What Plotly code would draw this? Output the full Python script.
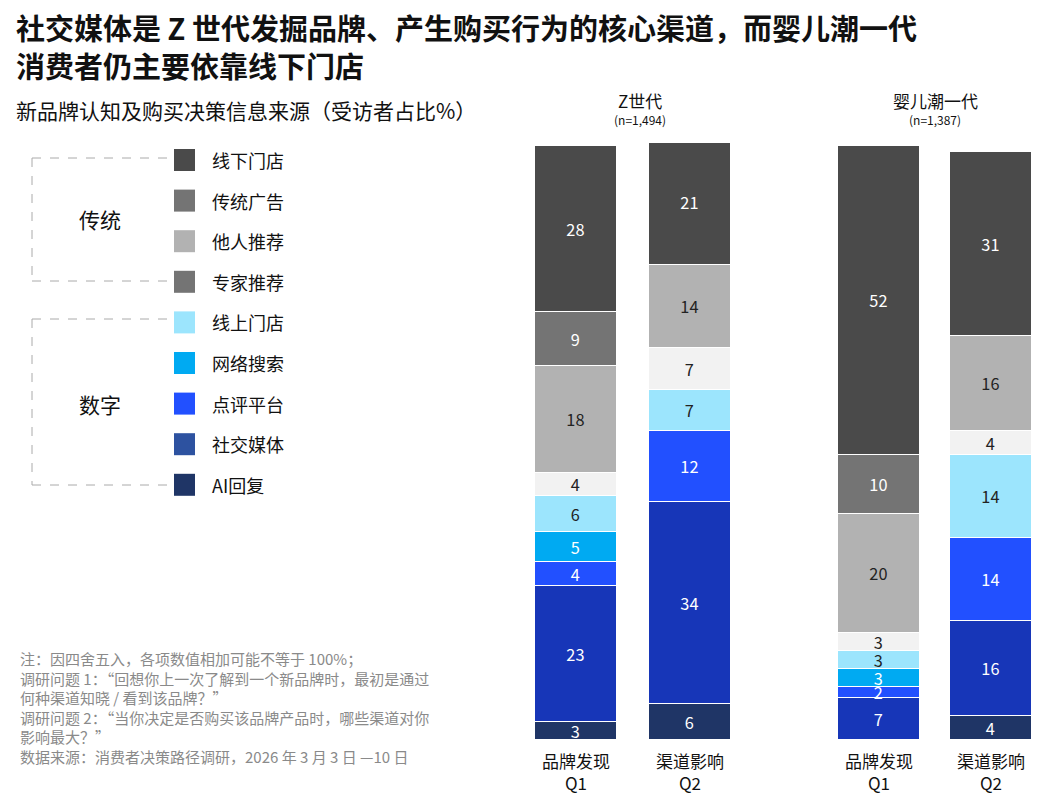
import plotly.graph_objects as go

# categories, bottom to top of each stack
channels = ["AI回复", "社交媒体", "点评平台", "网络搜索", "线上门店",
            "专家推荐", "他人推荐", "传统广告", "线下门店"]
bar_labels = ["品牌发现<br>Q1", "渠道影响<br>Q2", "品牌发现<br>Q1", "渠道影响<br>Q2"]
# values per channel for [Z Q1, Z Q2, Boomer Q1, Boomer Q2]
values = {
    "AI回复":   [3, 6, 0, 4],
    "社交媒体": [23, 34, 7, 16],
    "点评平台": [4, 12, 2, 14],
    "网络搜索": [5, 0, 3, 0],
    "线上门店": [6, 7, 3, 14],
    "专家推荐": [4, 7, 3, 4],
    "他人推荐": [18, 14, 20, 16],
    "传统广告": [9, 0, 10, 0],
    "线下门店": [28, 21, 52, 31],
}
bar_colors = {
    "AI回复": "#1f3566", "社交媒体": "#1736b8", "点评平台": "#2250ff",
    "网络搜索": "#00aaf2", "线上门店": "#9ce5fd", "专家推荐": "#f2f2f2",
    "他人推荐": "#b2b2b2", "传统广告": "#747474", "线下门店": "#4a4a4a",
}
legend_colors = {
    "线下门店": "#4a4a4a", "传统广告": "#747474", "他人推荐": "#b2b2b2",
    "专家推荐": "#747474", "线上门店": "#9ce5fd", "网络搜索": "#00aaf2",
    "点评平台": "#2250ff", "社交媒体": "#2d52a0", "AI回复": "#1f3566",
}
dark_text = {"线上门店", "专家推荐", "他人推荐"}
groups = ["Z世代", "婴儿潮一代"]
group_n = ["(n=1,494)", "(n=1,387)"]

FONT = "Noto Sans CJK SC, Microsoft YaHei, sans-serif"
OFF = 8  # page body margin
W, H = 1062 - 2 * OFF, 804 - 2 * OFF
xpos = [576, 690, 879, 991]


def py(p):
    return (H + OFF - p) / H


fig = go.Figure()
for ch in channels:
    vals = values[ch]
    fig.add_trace(go.Bar(
        x=xpos, y=vals, width=82,
        marker=dict(color=bar_colors[ch], line=dict(color="white", width=1.2)),
        text=[str(v) if v else "" for v in vals],
        textposition="inside", insidetextanchor="middle", textangle=0,
        textfont=dict(size=17, color="#222" if ch in dark_text else "white"),
        hoverinfo="skip", showlegend=False,
    ))

ann = []
shapes = []
# bar labels
for x, lab in zip(xpos, bar_labels):
    ann.append(dict(x=x, y=py(746), xref="x", yref="paper", text=lab, yanchor="top",
                    showarrow=False, font=dict(size=17, color="#111")))
# group headers
for x, g, n in zip([640, 935], groups, group_n):
    ann.append(dict(x=x, y=py(100), xref="x", yref="paper", text=g, yanchor="middle",
                    showarrow=False, font=dict(size=17, color="#111")))
    ann.append(dict(x=x, y=py(120), xref="x", yref="paper", text=n, yanchor="middle",
                    showarrow=False, font=dict(size=12, color="#111")))

# legend
leg_order = channels[::-1]
for i, ch in enumerate(leg_order):
    yc = 160 + i * 40.6
    shapes.append(dict(type="rect", xref="x", yref="paper",
                       x0=174, x1=195, y0=py(yc - 11), y1=py(yc + 11),
                       fillcolor=legend_colors[ch], line=dict(width=0)))
    ann.append(dict(x=210, y=py(yc), xref="x", yref="paper", text=ch,
                    xanchor="left", yanchor="middle", showarrow=False,
                    font=dict(size=18, color="#111")))

# brackets
for (y0, y1, lab) in [(158, 281, "传统"), (319, 485, "数字")]:
    for (xa, ya, xb, yb) in [(32, y0, 170, y0), (32, y0, 32, y1), (32, y1, 170, y1)]:
        shapes.append(dict(type="line", xref="x", yref="paper",
                           x0=xa, x1=xb, y0=py(ya), y1=py(yb),
                           line=dict(color="#aaa", width=1, dash="dash")))
    ann.append(dict(x=100, y=py(219 if lab == "传统" else 404), xref="x", yref="paper",
                    text=lab, yanchor="middle",
                    showarrow=False, font=dict(size=21, color="#111")))

# titles
ann.append(dict(x=14, y=py(4), xref="x", yref="paper", xanchor="left", yanchor="top",
                align="left", showarrow=False,
                text="<b>社交媒体是 Z 世代发掘品牌、产生购买行为的核心渠道，而婴儿潮一代<br>消费者仍主要依靠线下门店</b>",
                font=dict(size=29, color="#111")))
ann.append(dict(x=14, y=py(110), xref="x", yref="paper", xanchor="left", yanchor="middle",
                showarrow=False, text="新品牌认知及购买决策信息来源（受访者占比%）",
                font=dict(size=21, color="#111")))
ann.append(dict(x=18, y=py(646), xref="x", yref="paper", xanchor="left", yanchor="top",
                align="left", showarrow=False,
                text=("注：因四舍五入，各项数值相加可能不等于 100%；<br>"
                      "调研问题 1：“回想你上一次了解到一个新品牌时，最初是通过<br>"
                      "何种渠道知晓 / 看到该品牌？”<br>"
                      "调研问题 2：“当你决定是否购买该品牌产品时，哪些渠道对你<br>"
                      "影响最大？”<br>"
                      "数据来源：消费者决策路径调研，2026 年 3 月 3 日 —10 日"),
                font=dict(size=15, color="#8a8a8a")))

fig.update_layout(
    barmode="stack", bargap=0,
    width=W, height=H, margin=dict(l=0, r=0, t=0, b=0),
    paper_bgcolor="white", plot_bgcolor="white",
    font=dict(family=FONT),
    xaxis=dict(range=[OFF, OFF + W], domain=[0, 1], visible=False, fixedrange=True),
    yaxis=dict(range=[0, 100.5], domain=[py(740), py(143)], visible=False),
    uniformtext=dict(minsize=16, mode="show"),
    annotations=ann, shapes=shapes,
)

fig.write_html("out.html")
